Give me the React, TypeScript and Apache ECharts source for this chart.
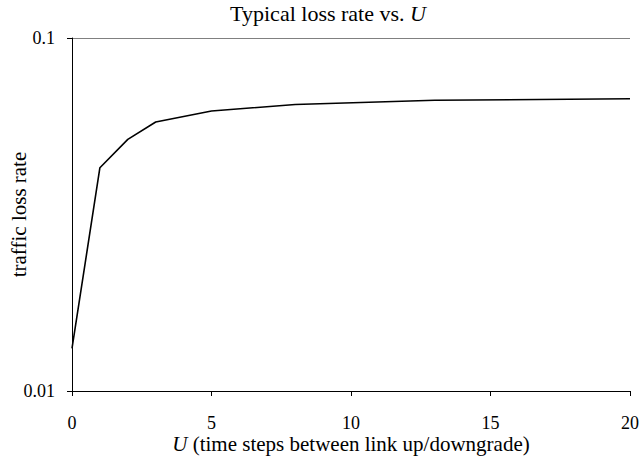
import React, { useEffect, useRef } from 'react';
import * as echarts from 'echarts';

const uSteps = [0, 1, 2, 3, 5, 8, 13, 20];
const lossRate = [0.0132, 0.0429, 0.0516, 0.0578, 0.0621, 0.0648, 0.0666, 0.0673];
const xTickLabels = ['0', '5', '10', '15', '20'];
const yTickLabels = ['0.01', '0.1'];

const FONT = '"Liberation Serif", "Times New Roman", serif';

export default function App() {
  const ref = useRef<HTMLDivElement>(null);
  useEffect(() => {
    const chart = echarts.init(ref.current!, null, { renderer: 'svg' });
    chart.setOption({
      animation: false,
      backgroundColor: '#ffffff',
      title: {
        text: 'Typical loss rate vs. {i|U}',
        left: 328,
        textAlign: 'center',
        top: 2,
        padding: 0,
        textStyle: {
          fontFamily: FONT,
          fontSize: 22,
          fontWeight: 'normal',
          color: '#000',
          rich: {
            i: { fontFamily: FONT, fontSize: 22, fontStyle: 'italic', color: '#000' },
          },
        },
      },
      grid: { left: 72, right: 9, top: 38, bottom: 73, containLabel: false, outerBoundsMode: 'none' },
      xAxis: {
        type: 'value',
        min: 0,
        max: 20,
        interval: 5,
        name: '{i|U} (time steps between link up/downgrade)',
        nameLocation: 'middle',
        nameGap: 42,
        nameMoveOverlap: false,
        nameTextStyle: {
          fontFamily: FONT,
          fontSize: 21,
          color: '#000',
          rich: {
            i: { fontFamily: FONT, fontSize: 21, fontStyle: 'italic', color: '#000' },
          },
        },
        axisLine: { show: true, onZero: false, lineStyle: { color: '#000', width: 1 } },
        axisTick: { show: true, inside: false, length: 5, lineStyle: { color: '#000' } },
        axisLabel: {
          margin: 23,
          fontFamily: FONT,
          fontSize: 18,
          color: '#000',
          formatter: (v: number) => {
            const s = String(v);
            return xTickLabels.includes(s) ? s : '';
          },
        },
        splitLine: { show: false },
      },
      yAxis: {
        type: 'log',
        logBase: 10,
        min: 0.01,
        max: 0.1,
        name: 'traffic loss rate',
        nameLocation: 'middle',
        nameGap: 43,
        nameMoveOverlap: false,
        nameTextStyle: { fontFamily: FONT, fontSize: 21, color: '#000' },
        axisLine: { show: true, lineStyle: { color: '#000', width: 1 } },
        axisTick: { show: true, inside: false, length: 5, lineStyle: { color: '#000' } },
        minorTick: { show: false },
        axisLabel: {
          margin: 17,
          fontFamily: FONT,
          fontSize: 18,
          color: '#000',
          formatter: (v: number) => (Math.abs(v - 0.01) < 1e-6 ? yTickLabels[0] : Math.abs(v - 0.1) < 1e-6 ? yTickLabels[1] : ''),
        },
        splitLine: { show: true, lineStyle: { color: '#808080', width: 1 } },
      },
      series: [
        {
          type: 'line',
          data: uSteps.map((u, i) => [u, lossRate[i]]),
          showSymbol: false,
          symbol: 'none',
          lineStyle: { color: '#000', width: 1.6 },
          silent: true,
        },
      ],
    });
    return () => chart.dispose();
  }, []);
  return (
    <div
      ref={ref}
      style={{ position: 'fixed', left: 0, top: 0, width: 639, height: 464, background: '#fff' }}
    />
  );
}
